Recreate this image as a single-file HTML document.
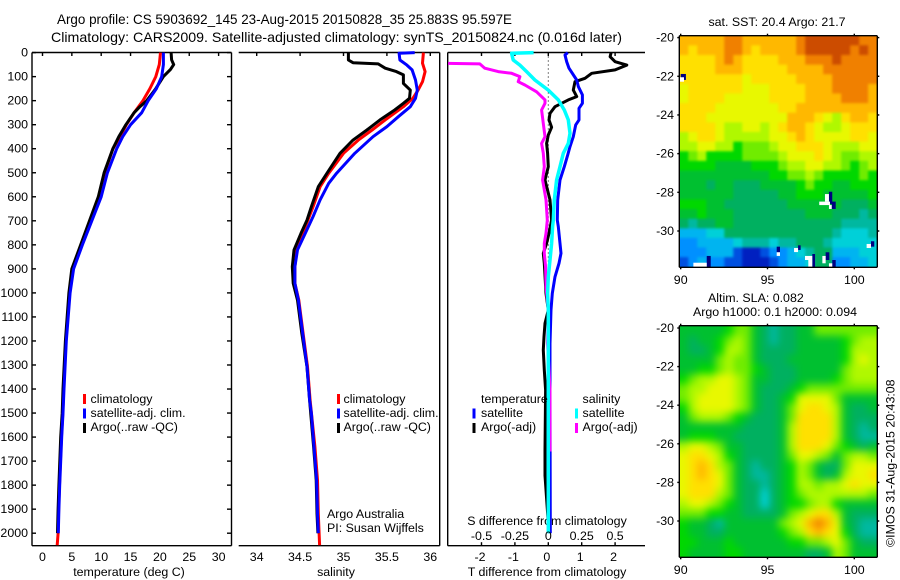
<!DOCTYPE html>
<html>
<head>
<meta charset="utf-8">
<title>Argo profile</title>
<style>
html,body{margin:0;padding:0;background:#fff;width:900px;height:580px;overflow:hidden}
svg{display:block;position:absolute;left:0;top:0}
text{font-family:"Liberation Sans",sans-serif;font-size:12.4px;fill:#000}
.title{font-size:14px}
</style>
</head>
<body>
<svg id="chart" xmlns="http://www.w3.org/2000/svg" width="900" height="580" viewBox="0 0 900 580">
<defs>
<clipPath id="clip-sst"><rect x="679.3" y="35.7" width="198" height="231.6"/></clipPath>
<clipPath id="clip-sla"><rect x="679.3" y="325.7" width="198" height="231.6"/></clipPath>
<filter id="blur-sst" filterUnits="userSpaceOnUse" x="650" y="10" width="250" height="280" color-interpolation-filters="sRGB"><feGaussianBlur stdDeviation="1.3"/></filter>
<filter id="blur-sla" filterUnits="userSpaceOnUse" x="650" y="300" width="250" height="280" color-interpolation-filters="sRGB"><feGaussianBlur stdDeviation="4"/></filter>
</defs>
<text class="title" x="57" y="24" textLength="455" lengthAdjust="spacingAndGlyphs">Argo profile: CS 5903692_145 23-Aug-2015 20150828_35 25.883S 95.597E</text>
<text class="title" x="51" y="42" textLength="571" lengthAdjust="spacingAndGlyphs">Climatology: CARS2009. Satellite-adjusted climatology: synTS_20150824.nc (0.016d later)</text>
<text x="129" y="576" text-anchor="middle">temperature (deg C)</text>
<text x="336" y="576" text-anchor="middle">salinity</text>
<text x="547" y="576" text-anchor="middle">T difference from climatology</text>
<text x="547" y="525" text-anchor="middle">S difference from climatology</text>
<text x="327" y="518">Argo Australia</text>
<text x="327" y="532">PI: Susan Wijffels</text>
<text x="777" y="26" text-anchor="middle">sat. SST: 20.4 Argo: 21.7</text>
<text x="708" y="302">Altim. SLA: 0.082</text>
<text x="693" y="316">Argo h1000: 0.1 h2000: 0.094</text>
<text transform="translate(894.5,547) rotate(-90)">©IMOS 31-Aug-2015 20:43:08</text>
</svg>
<script>
const depthTicks = [0,100,200,300,400,500,600,700,800,900,1000,1100,1200,1300,1400,1500,1600,1700,1800,1900,2000];
const tempTicks = [0,5,10,15,20,25,30];
const salTicks = [34,34.5,35,35.5,36];
const salTickLabels = ['34','34.5','35','35.5','36'];
const dTTicks = [-2,-1,0,1,2];
const dSTicks = [-0.5,-0.25,0,0.25,0.5];
const dSTickLabels = ['-0.5','-0.25','0','0.25','0.5'];
const lonTicks = [90,95,100];
const latTicks = [20,22,24,26,28,30];

const tempDepths = [0,50,100,150,200,250,300,350,400,500,600,700,800,900,1000,1200,1400,1500,1600,1700,1800,1900,2000];
const tempBlue = [20.6,20.6,20.3,19.4,18,16.9,15,13.66,12.64,11.05,10,8.4,6.8,5.3,4.7,4.05,3.66,3.5,3.27,3.1,2.93,2.8,2.7];
const tempRedDepths = [0,50,100,150,200,250,300,350,400,500,600,700,800,900,1000,1200,1400,1500,1600,1700,1800,1900,2000,2050];
const tempRed = [20.1,19.9,19.3,18.3,17.1,15.6,14.3,13.2,12,10.6,9.6,8.2,6.6,5.2,4.6,4,3.6,3.45,3.22,3.05,2.9,2.75,2.65,2.5];
const tempBlackDepths = [0,30,50,70,100,150,200,225,250,300,350,400,500,600,700,800,900,1000,1200,1400,1500,1600,1700,1800,1900,2000];
const tempBlack = [21.9,22,22.35,21.8,20.6,19.3,17.75,16.6,15.6,14.2,13,12,10.5,9.5,8,6.5,5,4.5,3.9,3.5,3.35,3.1,2.95,2.8,2.65,2.55];

const salBlueDepths = [0,3,31,52,72,114,156,190,225,267,308,350,419,502,544,613,682,752,821,891,960,1030,1168,1307,1446,1501,1640,1779,1918,2000];
const salBlue = [35.82,35.64,35.65,35.73,35.79,35.83,35.85,35.83,35.77,35.63,35.50,35.34,35.13,34.92,34.83,34.73,34.65,34.56,34.47,34.44,34.44,34.48,34.53,34.58,34.61,34.63,34.66,34.69,34.70,34.71];
const salRedDepths = [0,44,79,121,156,190,225,280,322,364,419,502,558,641,697,752,821,891,960,1030,1168,1307,1446,1640,1779,1918,2050];
const salRed = [35.92,35.91,35.94,35.91,35.86,35.80,35.69,35.48,35.33,35.17,35.0,34.83,34.73,34.65,34.59,34.53,34.46,34.44,34.44,34.485,34.535,34.585,34.615,34.67,34.70,34.71,34.725];
const salBlackDepths = [0,31,42,47,65,79,93,128,156,190,211,239,280,322,364,419,502,558,641,697,752,821,891,960,1030,1168,1307,1446,1640,1779,1918,2000];
const salBlack = [35.056,35.056,35.11,35.40,35.48,35.61,35.69,35.69,35.77,35.76,35.69,35.59,35.42,35.27,35.11,34.96,34.81,34.71,34.63,34.58,34.51,34.43,34.41,34.42,34.47,34.52,34.58,34.61,34.655,34.685,34.695,34.705];

const dTBlackDepths = [0,17,38,52,72,86,107,121,156,183,197,225,253,280,311,343,378,419,475,530,613,697,752,794,835,877,1002,1071,1127,1182,1238,1321,1404,1655,1760,2000];
const dTBlack = [1.88,1.85,2.0,2.35,2.0,1.3,1.1,.8,.75,.85,.6,.2,.05,.02,.1,0,-.05,-.02,0,-.1,.05,.1,.02,-.05,-.15,-.12,-.07,0,-.1,-.13,-.15,-.12,-.08,-.1,-.1,.02];
const dTBlueDepths = [0,10,38,65,114,142,176,211,232,280,301,350,391,426,475,530,613,697,724,794,835,877,933,1002,1071,1210,1404,2000];
const dTBlue = [.58,.5,.55,.62,.85,.90,1.02,1.02,.92,.92,.82,.75,.65,.58,.48,.35,.28,.27,.30,.35,.38,.32,.2,.12,.08,.05,.05,.06];
const dSCyanDepths = [0,3,31,52,79,114,156,197,239,280,336,378,419,475,530,613,697,724,794,863,933,1002,1071,1404,2000];
const dSCyan = [-.11,-.275,-.2625,-.2125,-.1625,-.1,0,.075,.12,.15,.1625,.15,.1125,.0875,.0625,.045,.0375,.0325,.025,.0125,0,-.005,0,0,0];
const dSMagentaDepths = [45,47,65,79,86,100,121,135,163,197,211,239,295,350,378,419,475,530,613,697,752,794,835,891,974,1071,1210,1400,1500,1660];
const dSMagenta = [-.75,-.5125,-.475,-.375,-.275,-.2125,-.225,-.175,-.0875,-.025,-.025,-.05,-.0375,-.025,-.05,-.0375,-.03,-.0425,-.0175,-.0075,-.0175,-.03,-.03,-.02,-.0175,0,-.005,.0125,.0125,.0125];

const sstLevels = [
[13,13,13,13,13,14,14,13,13,13,13,13,13,14,15,15,15,15,15,15,14,14],
[13,12,13,13,13,14,14,13,12,13,13,13,13,14,15,15,15,15,15,14,15,14],
[12,12,12,12,13,14,13,12,12,12,12,13,13,13,14,14,14,15,14,14,14,14],
[12,12,12,12,13,13,13,12,12,12,12,12,13,13,13,13,14,14,14,14,14,14],
[12,12,12,12,12,12,12,11,12,12,12,12,12,13,13,13,13,14,14,14,14,14],
[11,12,12,12,12,12,12,11,11,11,12,12,12,12,13,13,13,14,14,14,14,13],
[11,12,12,12,12,11,11,11,11,11,12,12,12,12,13,13,13,13,14,14,14,13],
[12,12,12,12,11,11,11,11,11,11,11,12,12,13,13,13,13,13,13,13,13,13],
[12,12,12,11,11,11,11,11,11,11,11,11,13,13,13,12,11,10,12,13,13,12],
[12,12,12,12,11,10,10,11,11,10,11,12,13,13,12,11,10,10,11,12,12,12],
[10,11,12,12,11,10,10,10,10,10,11,11,12,13,12,11,11,11,11,12,12,11],
[10,10,11,11,10,10,8,9,9,9,10,11,11,12,12,12,11,10,10,10,11,11],
[8,9,10,8,8,8,8,9,9,9,9,10,11,11,11,12,11,10,9,9,10,10],
[8,8,8,8,7,7,7,7,8,8,8,9,10,10,11,11,10,10,9,8,9,10],
[7,7,7,7,7,7,7,7,7,7,8,8,9,9,10,9,8,8,8,8,9,8],
[7,7,7,6,7,7,6,6,6,7,7,7,7,8,9,8,8,7,7,8,8,8],
[7,7,7,7,7,7,6,6,6,6,6,7,7,8,8,8,7,7,7,7,7,8],
[8,8,8,7,7,6,6,6,6,6,6,6,7,7,7,7,7,7,6,6,6,7],
[7,7,8,7,7,7,6,6,6,6,6,6,6,6,7,7,7,6,6,6,5,6],
[6,5,6,6,7,7,6,6,6,6,6,6,6,6,6,6,6,6,5,5,5,5],
[3,3,3,4,4,6,6,6,6,6,6,6,6,6,6,6,6,5,4,4,4,5],
[2,2,3,3,3,3,4,5,5,5,4,5,5,6,6,6,5,4,4,4,4,4],
[2,2,2,3,3,3,1,0,0,1,2,2,3,4,5,6,6,3,3,3,4,4],
[1,2,3,2,2,1,1,0,0,0,1,2,3,3,4,6,6,2,2,3,3,4]
];
const slaLevels = [
[7,7,7,7,7,8,9,9,7,6,5,6,6,7,7,9,9,9,9,9,9,9],
[7,6,7,7,8,9,10,9,7,6,5,6,6,7,7,7,7,7,8,9,10,10],
[7,6,6,7,8,10,10,9,7,6,6,6,6,7,7,7,7,7,8,10,10,10],
[7,7,7,7,9,10,9,9,7,6,6,6,7,7,7,7,7,7,8,10,11,10],
[7,7,8,8,9,10,9,9,8,7,6,6,6,7,7,7,7,7,9,10,10,10],
[8,9,10,10,11,11,10,9,7,7,6,6,6,7,7,7,7,8,9,10,10,10],
[9,10,10,11,11,11,10,9,7,6,6,6,7,8,9,9,9,9,9,9,9,9],
[9,10,11,11,11,11,10,9,7,6,6,7,8,11,11,11,11,9,7,7,7,7],
[8,10,11,11,11,11,10,9,7,6,6,7,9,11,12,12,11,10,7,6,6,7],
[7,9,10,10,10,9,8,7,6,6,6,7,9,12,12,12,12,10,7,6,6,6],
[7,7,7,7,7,7,7,6,6,6,6,7,10,12,12,12,12,10,7,6,5,6],
[7,8,8,8,7,7,6,6,6,6,6,7,10,12,12,12,12,10,7,6,5,5],
[10,11,11,10,9,7,7,6,6,6,6,7,10,12,12,12,11,9,8,7,6,7],
[11,12,12,11,10,8,7,6,6,6,6,7,9,11,11,10,9,7,9,10,10,9],
[11,12,13,12,10,9,7,6,5,6,6,7,8,10,9,7,6,6,9,11,11,11],
[11,12,13,12,11,9,7,6,5,5,6,7,8,10,9,7,6,7,10,11,11,12],
[11,12,12,12,11,9,7,6,6,5,6,7,8,10,10,9,10,10,11,12,11,11],
[11,12,12,12,10,9,7,6,6,4,6,7,8,9,10,10,10,10,10,10,10,9],
[10,11,11,10,9,8,7,6,6,4,6,7,8,8,9,10,10,8,7,7,7,7],
[9,9,9,8,8,7,7,6,6,6,6,7,9,10,11,12,12,10,7,6,6,6],
[8,7,7,6,5,7,7,7,7,7,7,9,10,11,13,14,13,11,7,6,5,5],
[8,7,7,6,6,7,7,7,7,7,7,8,9,10,12,13,12,11,8,6,5,5],
[8,8,7,7,7,8,7,7,7,7,7,7,8,8,9,9,10,11,9,7,6,6],
[8,7,7,7,7,8,8,7,7,7,7,7,7,7,6,6,7,10,9,7,7,7]
];
const sstNavyPatches = [[90,21.88,90.3,22.19],[91.5,31.29,91.73,31.88],[98.54,27.97,98.73,28.6],[98.7,28.48,98.93,28.86],[95.53,30.81,95.72,31.1],[96.76,30.74,96.91,30.98],[97.58,31.19,97.74,31.88],[98.35,31.1,98.56,31.5],[98.73,31.5,98.93,31.88],[100.96,30.53,101.15,30.81]];
const sstWhitePatches = [[89.96,22.05,90.19,22.28],[90.73,31.64,91.5,31.88],[97.98,28.48,98.6,28.66],[98.31,28.09,98.54,28.48],[98.54,28.66,98.7,28.86],[95.53,31.1,95.72,31.29],[96.53,30.88,96.76,31.09],[97.16,31.29,97.58,31.5],[97.35,31.5,97.58,31.88],[98.16,31.29,98.35,31.67],[98.54,31.67,98.73,31.88],[100.71,30.67,100.96,30.88]];

const svg = document.getElementById('chart');
const NS = 'http://www.w3.org/2000/svg';
const palette = ['#0020c0','#0050e0','#0090ff','#00b4f0','#00d0d8','#00b8a0','#00b060','#00c030','#00d800','#70ec00','#b0f800','#e8f800','#ffe000','#ffb800','#f08000','#cc4c00'];

function make(tag, attrs, parent) {
  const e = document.createElementNS(NS, tag);
  for (const k in attrs) e.setAttribute(k, attrs[k]);
  (parent || svg).appendChild(e);
  return e;
}
const yOfDepth = d => 52.6 + d * 0.2403;
const xOfTemp = t => 42.5 + t * 5.87;
const xOfSal = s => 256.7 + (s - 34) * 86.8;
const xOfDT = t => 548.3 + t * 33.4;
const xOfDS = s => 548.3 + s * 133.6;
const xOfLon = l => 680.7 + (l - 90) * 17.36;
const yOfLatA = l => 37.6 + (l - 20) * 19.34;
const yOfLatB = l => 328 + (l - 20) * 19.3;

function hLine(x1, x2, y, name) {
  const e = make('line', {x1: x1, x2: x2, y1: y, y2: y, stroke: '#000', 'stroke-width': 1.4});
  
  
}
function vLine(x, y1, y2, name) {
  const e = make('line', {x1: x, x2: x, y1: y1, y2: y2, stroke: '#000', 'stroke-width': 1.4});
  
  
}
function label(x, y, str, anchor, name) {
  const e = make('text', {x: x, y: y, 'text-anchor': anchor});
  e.textContent = str;
  
  
}
function profile(depths, values, xOf, color, width, name) {
  const pts = depths.map((d, i) => xOf(values[i]).toFixed(1) + ',' + yOfDepth(d).toFixed(1)).join(' ');
  const e = make('polyline', {points: pts, fill: 'none', stroke: color, 'stroke-width': width, 'stroke-linejoin': 'round'});
  
  
}
function swatch(x, y, color, name) {
  const e = make('rect', {x: x, y: y, width: 3, height: 10, fill: color});
  
  
}

const TOP = 52.5, BOTTOM = 545.7;
// panel 1
hLine(32, 231.5, TOP, 'temperature-top-axis');
hLine(32, 231.5, BOTTOM, 'temperature-bottom-axis');
vLine(32, TOP, BOTTOM, 'temperature-left-axis');
vLine(231.5, TOP, BOTTOM, 'temperature-right-axis');
depthTicks.forEach(d => {
  hLine(32, 36, yOfDepth(d), 'depth-tick-left');
  hLine(227, 231.5, yOfDepth(d), 'depth-tick-right');
  label(28, yOfDepth(d) + 4, String(d), 'end', 'depth-tick-label');
});
tempTicks.forEach(t => {
  vLine(xOfTemp(t), TOP, TOP + 3.5, 'temperature-tick');
  label(xOfTemp(t), 561, String(t), 'middle', 'temperature-tick-label');
});
profile(tempRedDepths, tempRed, xOfTemp, '#ff0000', 3, 'temperature-climatology-line');
profile(tempBlackDepths, tempBlack, xOfTemp, '#000000', 3, 'temperature-argo-line');
profile(tempDepths, tempBlue, xOfTemp, '#0000ff', 3, 'temperature-satellite-line');
swatch(83, 394, '#ff0000', 'legend-swatch-climatology');
swatch(83, 408.5, '#0000ff', 'legend-swatch-satellite');
swatch(83, 423, '#000000', 'legend-swatch-argo');
label(90.5, 403, 'climatology', 'start', 'legend-entry-climatology');
label(90.5, 417, 'satellite-adj. clim.', 'start', 'legend-entry-satellite');
label(90.5, 431, 'Argo(..raw -QC)', 'start', 'legend-entry-argo');

// panel 2
hLine(238.7, 439.7, TOP, 'salinity-top-axis');
hLine(238.7, 439.7, BOTTOM, 'salinity-bottom-axis');
vLine(439.7, TOP, BOTTOM, 'salinity-right-axis');
salTicks.forEach((s, i) => {
  vLine(xOfSal(s), TOP, TOP + 3.5, 'salinity-tick');
  label(xOfSal(s), 561, salTickLabels[i], 'middle', 'salinity-tick-label');
});
profile(salRedDepths, salRed, xOfSal, '#ff0000', 3, 'salinity-climatology-line');
profile(salBlackDepths, salBlack, xOfSal, '#000000', 3, 'salinity-argo-line');
profile(salBlueDepths, salBlue, xOfSal, '#0000ff', 3, 'salinity-satellite-line');
swatch(337, 394, '#ff0000', 'salinity-legend-swatch-climatology');
swatch(337, 408.5, '#0000ff', 'salinity-legend-swatch-satellite');
swatch(337, 423, '#000000', 'salinity-legend-swatch-argo');
label(343.5, 403, 'climatology', 'start', 'salinity-legend-entry-climatology');
label(343.5, 417, 'satellite-adj. clim.', 'start', 'salinity-legend-entry-satellite');
label(343.5, 431, 'Argo(..raw -QC)', 'start', 'salinity-legend-entry-argo');

// panel 3
hLine(447.7, 645, TOP, 'difference-top-axis');
hLine(447.7, 645, BOTTOM, 'difference-bottom-axis');
vLine(447.7, TOP, BOTTOM, 'difference-left-axis');
const zero = make('line', {x1: xOfDT(0), x2: xOfDT(0), y1: TOP, y2: 400, stroke: '#000', 'stroke-width': 1, 'stroke-dasharray': '1 3'});


dTTicks.forEach(t => {
  vLine(xOfDT(t), TOP, TOP + 3.5, 'difference-tick-top');
  vLine(xOfDT(t), BOTTOM - 3.5, BOTTOM, 'difference-tick-bottom');
  label(xOfDT(t) - 1.5, 561, String(t), 'middle', 't-difference-tick-label');
});
profile(dTBlackDepths, dTBlack, xOfDT, '#000000', 3, 't-difference-argo-line');
profile(dTBlueDepths, dTBlue, xOfDT, '#0000ff', 3, 't-difference-satellite-line');
profile(dSMagentaDepths, dSMagenta, xOfDS, '#ff00ff', 3, 's-difference-argo-line');
profile(dSCyanDepths, dSCyan, xOfDS, '#00ffff', 3.5, 's-difference-satellite-line');
dSTicks.forEach((s, i) => {
  label(xOfDS(s), 540, dSTickLabels[i], 'middle', 's-difference-tick-label');
});
swatch(472.5, 408.5, '#0000ff', 'difference-legend-swatch-t-satellite');
swatch(472.5, 423, '#000000', 'difference-legend-swatch-t-argo');
swatch(575, 408.5, '#00ffff', 'difference-legend-swatch-s-satellite');
swatch(575, 423, '#ff00ff', 'difference-legend-swatch-s-argo');
label(481, 403, 'temperature', 'start', 'difference-legend-title-temperature');
label(481, 417, 'satellite', 'start', 'difference-legend-t-satellite');
label(481, 431, 'Argo(-adj)', 'start', 'difference-legend-t-argo');
label(582.5, 403, 'salinity', 'start', 'difference-legend-title-salinity');
label(582.5, 417, 'satellite', 'start', 'difference-legend-s-satellite');
label(582.5, 431, 'Argo(-adj)', 'start', 'difference-legend-s-argo');

// maps
const LON0 = 89.92, DLON = 0.518, LAT0 = 19.9, DLAT = 0.498;
const BLEED = 14;
function heatmap(rows, yOf, clipId, filterId, name) {
  const outer = make('g', {'clip-path': 'url(#' + clipId + ')'});
  
  
  const inner = make('g', {filter: 'url(#' + filterId + ')'}, outer);
  rows.forEach((row, r) => {
    row.forEach((v, c) => {
      let x0 = xOfLon(LON0 + c * DLON), x1 = xOfLon(LON0 + (c + 1) * DLON);
      let y0 = yOf(LAT0 + r * DLAT), y1 = yOf(LAT0 + (r + 1) * DLAT);
      if (c === 0) x0 -= BLEED;
      if (c === row.length - 1) x1 += BLEED;
      if (r === 0) y0 -= BLEED;
      if (r === rows.length - 1) y1 += BLEED;
      const e = make('rect', {x: x0.toFixed(2), y: y0.toFixed(2), width: (x1 - x0 + 0.4).toFixed(2), height: (y1 - y0 + 0.4).toFixed(2), fill: palette[v]}, inner);
      
      
    });
  });
}
function patches(list, color, name) {
  list.forEach(p => {
    const e = make('rect', {x: xOfLon(p[0]).toFixed(2), y: yOfLatA(p[1]).toFixed(2), width: (xOfLon(p[2]) - xOfLon(p[0])).toFixed(2), height: (yOfLatA(p[3]) - yOfLatA(p[1])).toFixed(2), fill: color});
    
    
  });
}
function mapFrame(top, bottom, yOf, xLabelY, prefix) {
  const L = 679.3, R = 877.3;
  hLine(L, R, top, prefix + '-top-axis');
  hLine(L, R, bottom, prefix + '-bottom-axis');
  vLine(L, top, bottom, prefix + '-left-axis');
  vLine(R, top, bottom, prefix + '-right-axis');
  lonTicks.forEach(l => {
    vLine(xOfLon(l), top - 2, top, prefix + '-lon-tick-top');
    vLine(xOfLon(l), bottom, bottom + 2, prefix + '-lon-tick-bottom');
    label(xOfLon(l), xLabelY, String(l), 'middle', prefix + '-lon-label');
  });
  latTicks.forEach(l => {
    hLine(L - 2, L, yOf(l), prefix + '-lat-tick-left');
    hLine(R, R + 2, yOf(l), prefix + '-lat-tick-right');
    label(674, yOf(l) + 4, '-' + l, 'end', prefix + '-lat-label');
  });
}
heatmap(sstLevels, yOfLatA, 'clip-sst', 'blur-sst', 'sst-cell');
patches(sstNavyPatches, '#000080', 'sst-cloud-edge');
patches(sstWhitePatches, '#ffffff', 'sst-missing');
mapFrame(35.7, 267.3, yOfLatA, 284, 'sst-map');
heatmap(slaLevels, yOfLatB, 'clip-sla', 'blur-sla', 'sla-cell');
mapFrame(325.7, 557.3, yOfLatB, 574, 'sla-map');
</script>
</body>
</html>
